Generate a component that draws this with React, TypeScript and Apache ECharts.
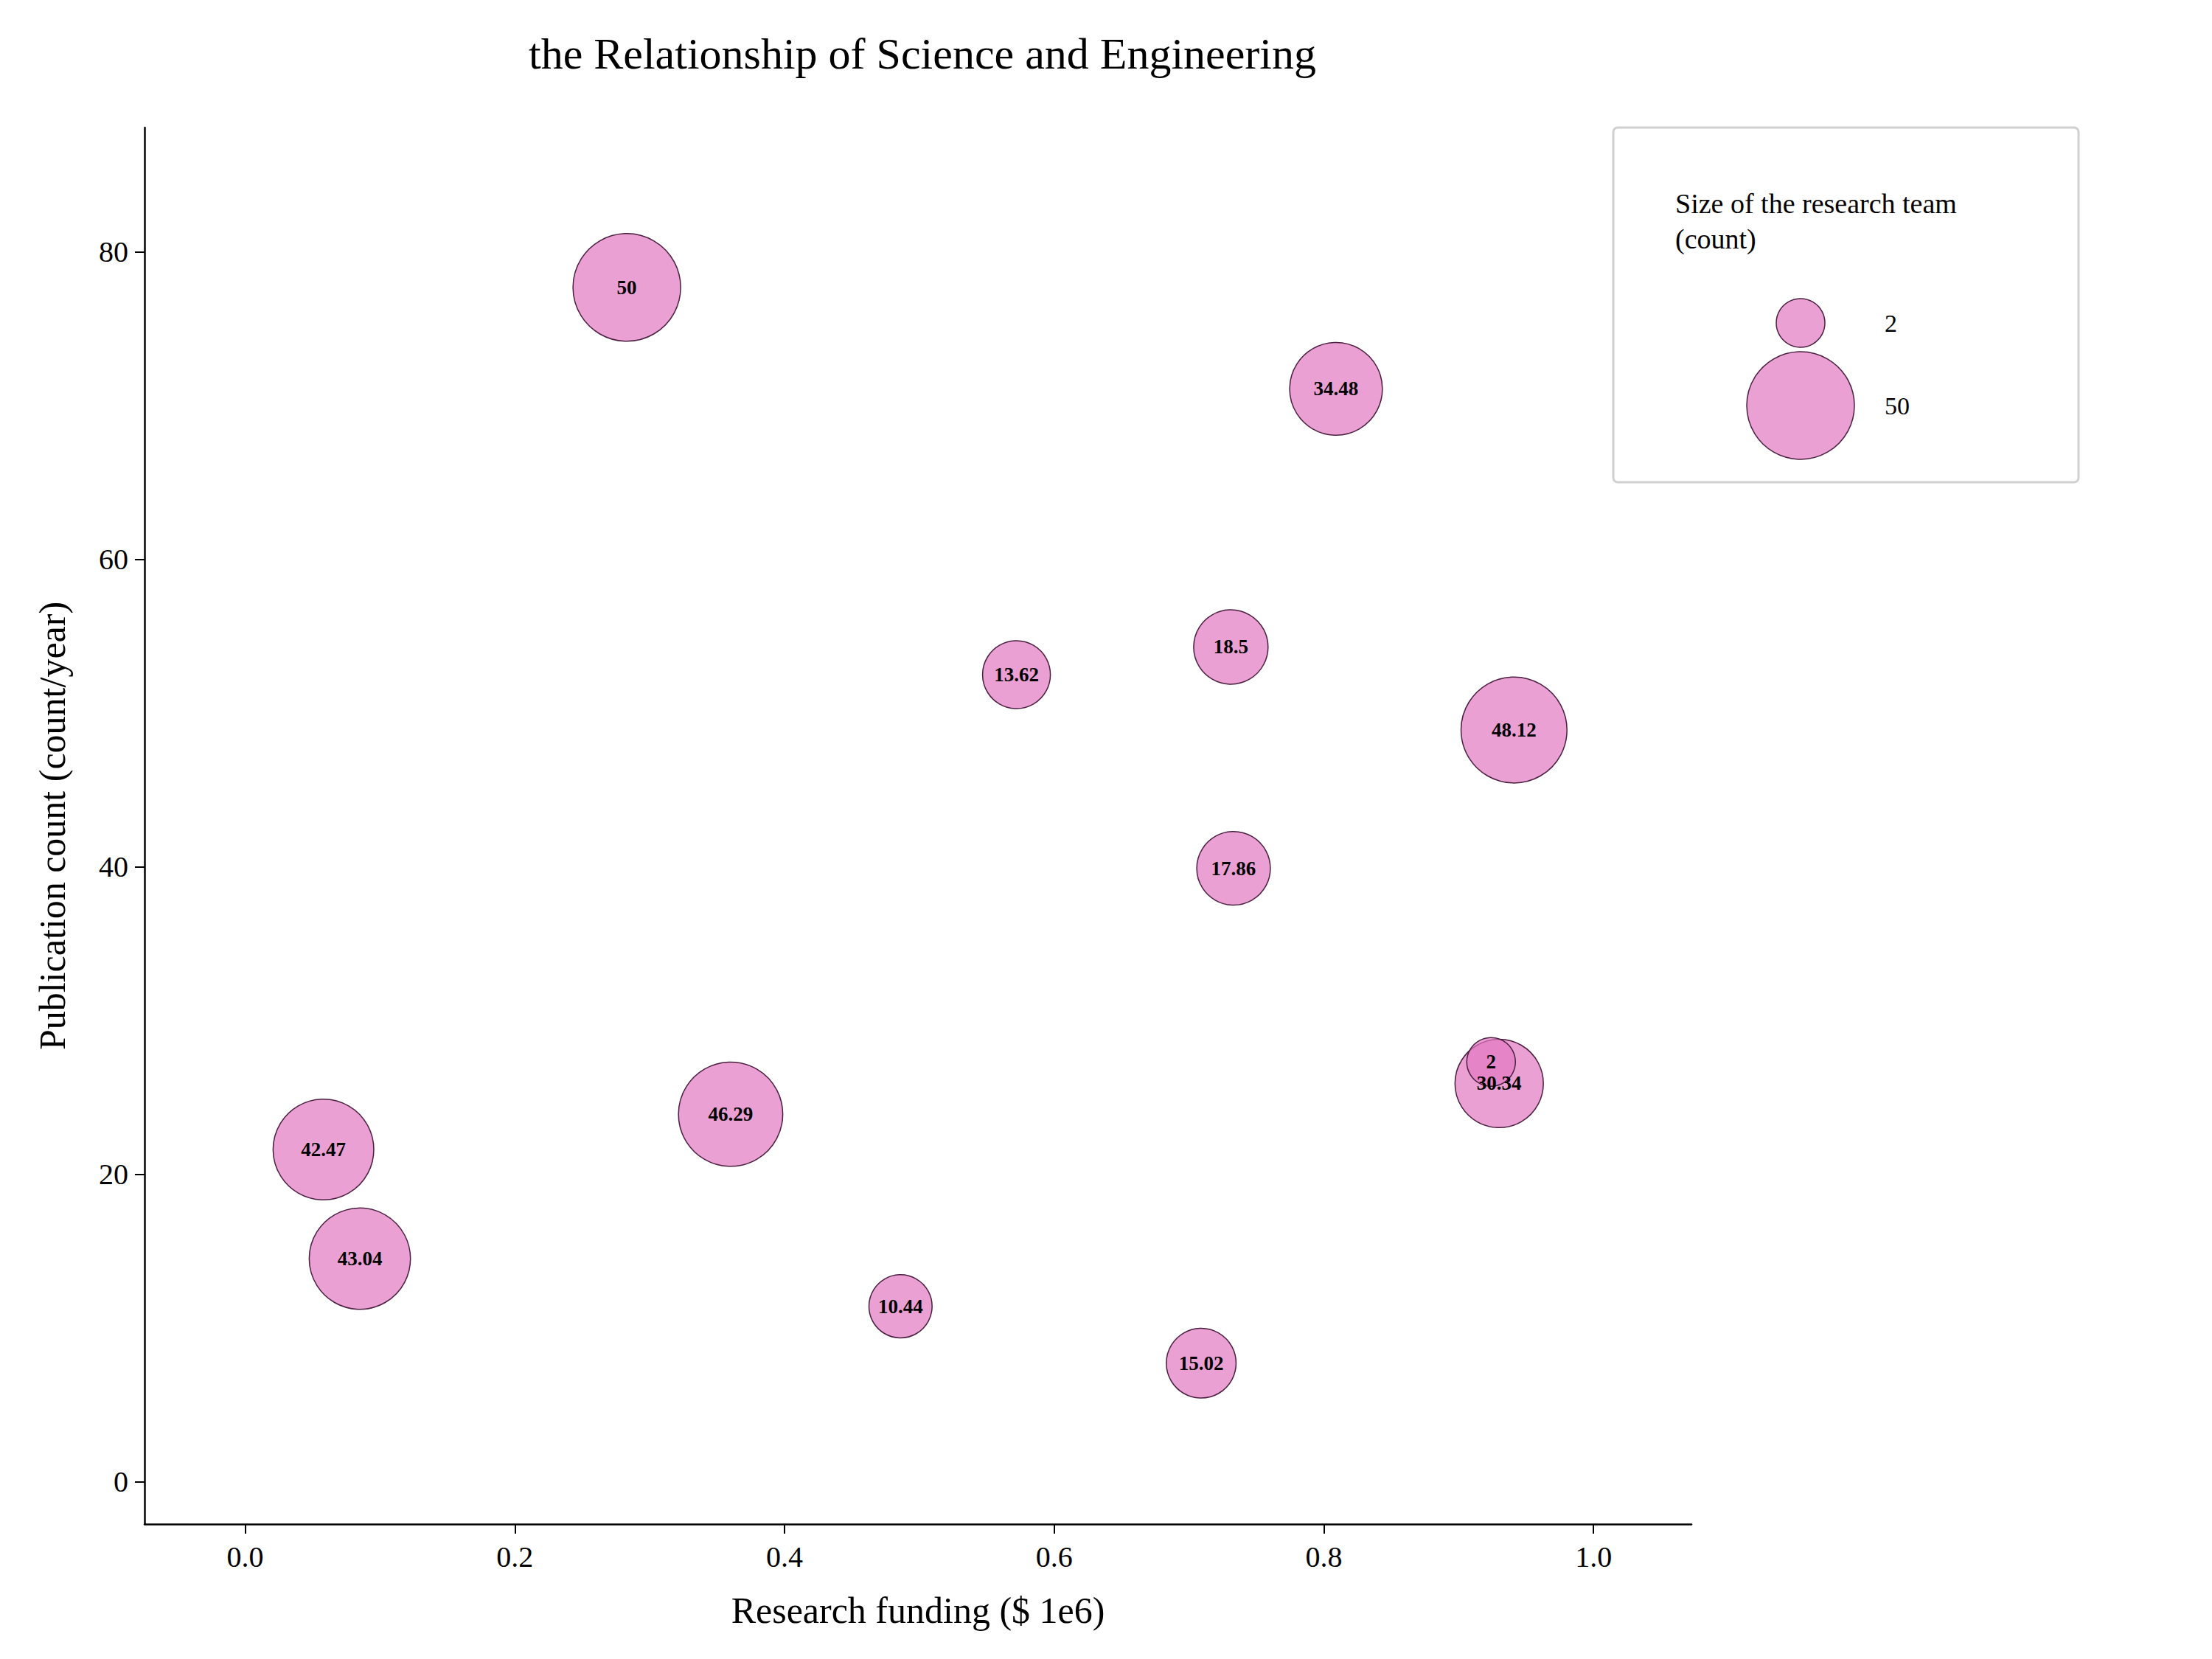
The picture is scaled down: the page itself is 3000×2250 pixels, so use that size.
import { useEffect, useRef } from 'react'
import * as echarts from 'echarts'

const funding = [0.283, 0.809, 0.572, 0.731, 0.941, 0.733, 0.930, 0.924, 0.360, 0.058, 0.085, 0.486, 0.709]
const publications = [77.7, 71.1, 52.5, 54.3, 48.9, 39.9, 25.9, 27.3, 23.9, 21.6, 14.5, 11.4, 7.7]
const teamSize = [50, 34.48, 13.62, 18.5, 48.12, 17.86, 30.34, 2, 46.29, 42.47, 43.04, 10.44, 15.02]
const xTicks = [0, 0.2, 0.4, 0.6, 0.8, 1.0]
const yTicks = [0, 20, 40, 60, 80]
const legendSizes = [2, 50]

const FONT = 'Liberation Serif'
const PINK = 'rgba(227,119,194,0.7)'
const EDGE = '#4a1f40'

// area-proportional bubble diameter in px
const diameter = (v: number) => {
  const rMin = 33
  const rMax = 73
  const t = (v - 2) / 48
  return 2 * Math.sqrt(rMin * rMin + t * (rMax * rMax - rMin * rMin))
}

export default function App() {
  const ref = useRef<HTMLDivElement>(null)

  useEffect(() => {
    document.body.style.margin = '0'
    if (!ref.current) return
    const chart = echarts.init(ref.current, undefined, { renderer: 'svg' })
    const data = funding.map((x, i) => [x, publications[i], teamSize[i]])
    const axisText = { color: '#000', fontFamily: FONT, fontSize: 40 }
    chart.setOption({
      animation: false,
      backgroundColor: '#fff',
      title: {
        text: 'the Relationship of Science and Engineering',
        left: 1246,
        top: 38,
        textAlign: 'center',
        textStyle: { fontFamily: FONT, fontSize: 60, fontWeight: 'normal', color: '#000' },
      },
      grid: { left: 196, right: 706, top: 173, bottom: 183 },
      xAxis: {
        type: 'value',
        min: -0.0747,
        max: 1.0726,
        name: 'Research funding ($ 1e6)',
        nameLocation: 'middle',
        nameGap: 92,
        nameTextStyle: { ...axisText, fontSize: 50 },
        axisLine: { show: true, onZero: false, lineStyle: { color: '#000', width: 2.5 } },
        axisTick: { show: true, customValues: xTicks, length: 13, lineStyle: { color: '#000', width: 2 } },
        axisLabel: { ...axisText, customValues: xTicks, margin: 24, formatter: (v: number) => v.toFixed(1) },
        splitLine: { show: false },
      },
      yAxis: {
        type: 'value',
        min: -2.77,
        max: 88.1,
        name: 'Publication count (count/year)',
        nameLocation: 'middle',
        nameGap: 100,
        nameTextStyle: { ...axisText, fontSize: 50 },
        axisLine: { show: true, onZero: false, lineStyle: { color: '#000', width: 2.5 } },
        axisTick: { show: true, customValues: yTicks, length: 13, lineStyle: { color: '#000', width: 2 } },
        axisLabel: { ...axisText, customValues: yTicks, margin: 22 },
        splitLine: { show: false },
      },
      series: [
        {
          type: 'scatter',
          data,
          symbolSize: (d: number[]) => diameter(d[2]),
          itemStyle: { color: PINK, borderColor: EDGE, borderWidth: 1.5, opacity: 1 },
          label: {
            show: true,
            position: 'inside',
            formatter: (p: any) => String(p.value[2]),
            color: '#000',
            fontFamily: FONT,
            fontWeight: 'bold',
            fontSize: 27,
          },
        },
      ],
      graphic: [
        {
          type: 'rect',
          shape: { x: 2188, y: 173, width: 631, height: 481, r: 6 },
          style: { fill: '#fff', stroke: '#d0d0d0', lineWidth: 3 },
        },
        {
          type: 'text',
          x: 2272,
          y: 252,
          style: {
            text: 'Size of the research team\n(count)',
            fontFamily: FONT,
            fontSize: 38,
            lineHeight: 48,
            fill: '#000',
          },
        },
        ...legendSizes.map((s, i) => ({
          type: 'circle',
          shape: { cx: 2442, cy: i === 0 ? 438 : 550, r: diameter(s) / 2 },
          style: { fill: PINK, stroke: EDGE, lineWidth: 1.5 },
        })),
        ...legendSizes.map((s, i) => ({
          type: 'text',
          x: 2556,
          y: i === 0 ? 438 : 550,
          style: { text: String(s), fontFamily: FONT, fontSize: 34, fill: '#000', verticalAlign: 'middle' },
        })),
      ],
    })
    return () => chart.dispose()
  }, [])

  return <div ref={ref} style={{ width: 3000, height: 2250 }} />
}
